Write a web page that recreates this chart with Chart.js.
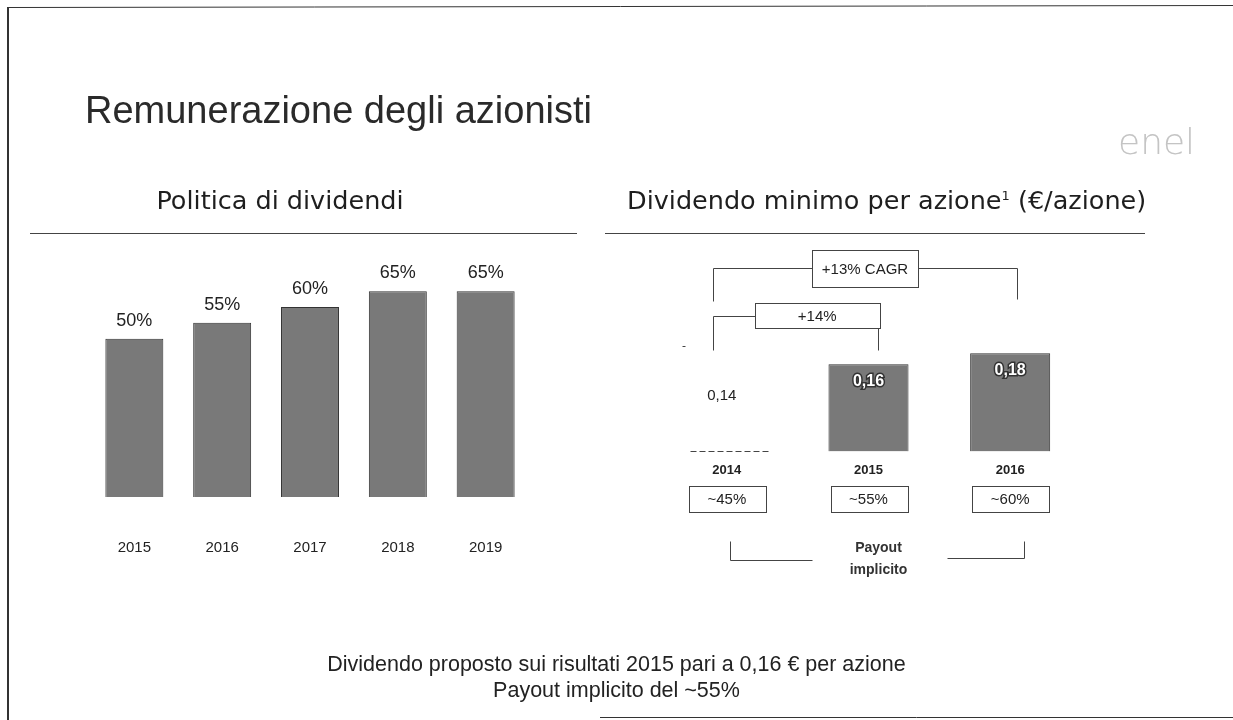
<!DOCTYPE html>
<html>
<head>
<meta charset="utf-8">
<script src="https://cdn.jsdelivr.net/npm/chart.js@4.4.0/dist/chart.umd.min.js"></script>
<style>
html, body { overflow:hidden; }
body { margin:0; background:#fff; width:1233px; height:720px; position:relative;
       font-family:"Liberation Sans", Arial, sans-serif; color:#222; }
.abs { position:absolute; }
.line { position:absolute; border-top:1px solid #444; height:0; }
.sub { position:absolute; font-family:"DejaVu Sans", sans-serif; font-size:25.5px; line-height:28px; white-space:nowrap; color:#1e1e1e; }
canvas { position:absolute; }
</style>
</head>
<body>

<canvas id="frame" width="1233" height="720" style="left:0;top:0;"></canvas>

<div class="abs" style="left:85px;top:89px;font-size:38px;line-height:42px;color:#2a2a2a;white-space:nowrap;">Remunerazione degli azionisti</div>
<div class="abs" style="left:1118px;top:122px;font-size:36px;line-height:40px;color:#c4c4c4;font-family:'DejaVu Sans';font-weight:200;">enel</div>

<div class="sub" style="left:30px;top:186px;width:500px;text-align:center;">Politica di dividendi</div>
<div class="sub" style="left:627px;top:186px;">Dividendo minimo per azione<sup style="font-size:13px;line-height:0;vertical-align:9px;">1</sup> (€/azione)</div>
<div class="line" style="left:30px;top:233px;width:547px;"></div>
<div class="line" style="left:605px;top:233px;width:540px;"></div>

<canvas id="leftChart" width="466" height="349" style="left:77px;top:250px;"></canvas>
<canvas id="rightChart" width="520" height="360" style="left:600px;top:240px;"></canvas>

<div class="abs" style="left:0;top:651px;width:1233px;text-align:center;font-size:21.5px;line-height:26px;">Dividendo proposto sui risultati 2015 pari a 0,16 € per azione</div>
<div class="abs" style="left:0;top:677px;width:1233px;text-align:center;font-size:21.5px;line-height:26px;">Payout implicito del ~55%</div>

<script>
// Politica di dividendi (payout %)
const policyYears = ['2015', '2016', '2017', '2018', '2019'];
const policyPayout = [50, 55, 60, 65, 65];

// Dividendo minimo per azione (€/azione)
const dpsYears = ['2014', '2015', '2016'];
const dpsValues = [0.14, 0.16, 0.18];
const dpsLabels = ['0,14', '0,16', '0,18'];
const impliedPayout = ['~45%', '~55%', '~60%'];
const growthLabels = ['+13% CAGR', '+14%'];

const FONT = '"Liberation Sans", Arial, sans-serif';
const BAR_GREY = '#797979';

// page frame of the scanned slide
const fctx = document.getElementById('frame').getContext('2d');
fctx.strokeStyle = '#333';
fctx.lineWidth = 1;
fctx.beginPath(); fctx.moveTo(8, 7.5); fctx.lineTo(1233, 5.5); fctx.stroke();
fctx.lineWidth = 2;
fctx.beginPath(); fctx.moveTo(8, 7); fctx.lineTo(8, 720); fctx.stroke();
fctx.lineWidth = 1;
fctx.beginPath(); fctx.moveTo(600, 717.5); fctx.lineTo(1233, 717.5); fctx.stroke();

// labels above the bars on the left
const policyLabels = {
    id: 'policyLabels',
    afterDatasetsDraw(chart) {
        const ctx = chart.ctx;
        ctx.save();
        ctx.font = '18px ' + FONT;
        ctx.fillStyle = '#222';
        ctx.textAlign = 'center';
        ctx.textBaseline = 'middle';
        chart.getDatasetMeta(0).data.forEach((bar, i) => {
            ctx.fillText(policyPayout[i] + '%', bar.x, bar.y - 18);
        });
        ctx.restore();
    }
};

new Chart(document.getElementById('leftChart').getContext('2d'), {
    type: 'bar',
    data: {
        labels: policyYears,
        datasets: [{
            data: policyPayout,
            backgroundColor: BAR_GREY,
            borderColor: '#333',
            borderWidth: 1,
            barPercentage: 0.66,
            categoryPercentage: 1
        }]
    },
    options: {
        responsive: false,
        animation: false,
        layout: { padding: 0, autoPadding: false },
        plugins: { legend: { display: false }, tooltip: { enabled: false } },
        scales: {
            x: {
                grid: { display: false, drawTicks: false },
                border: { display: false },
                ticks: { color: '#222', padding: 42, font: { family: FONT, size: 15 } }
            },
            y: { display: false, min: 0, max: 78 }
        }
    },
    plugins: [policyLabels]
});

function box(ctx, x1, y1, x2, y2) {
    ctx.strokeRect(Math.round(x1) + 0.5, Math.round(y1) + 0.5, Math.round(x2 - x1), Math.round(y2 - y1));
}
function seg(ctx, pts) {
    ctx.beginPath();
    ctx.moveTo(Math.round(pts[0][0]) + 0.5, Math.round(pts[0][1]) + 0.5);
    for (let i = 1; i < pts.length; i++) ctx.lineTo(Math.round(pts[i][0]) + 0.5, Math.round(pts[i][1]) + 0.5);
    ctx.stroke();
}

// brackets, boxes and value labels on the right
const dpsDecor = {
    id: 'dpsDecor',
    afterDatasetsDraw(chart) {
        const ctx = chart.ctx;
        const xs = dpsYears.map((_, i) => chart.scales.x.getPixelForValue(i));
        const b = chart.chartArea.bottom;
        const bars = chart.getDatasetMeta(0).data;
        ctx.save();
        ctx.textAlign = 'center';
        ctx.textBaseline = 'middle';

        // value labels
        bars.forEach((bar, i) => {
            if (i === 0) {
                ctx.font = '15px ' + FONT;
                ctx.fillStyle = '#222';
                ctx.fillText(dpsLabels[i], bar.x - 5, bar.y + 21);
            } else {
                ctx.font = 'bold 16px ' + FONT;
                ctx.lineWidth = 3;
                ctx.strokeStyle = '#333';
                ctx.strokeText(dpsLabels[i], bar.x, bar.y + 17);
                ctx.fillStyle = '#fff';
                ctx.fillText(dpsLabels[i], bar.x, bar.y + 17);
            }
        });
        ctx.lineWidth = 1;
        ctx.strokeStyle = '#444';

        // dashed base under 2014
        ctx.setLineDash([6, 3]);
        seg(ctx, [[xs[0] - 37, b], [xs[0] + 41, b]]);
        ctx.setLineDash([]);

        // +13% CAGR bracket
        const cl = xs[0] - 14, cr = xs[2] + 7, cm = (cl + cr) / 2;
        seg(ctx, [[cl, b - 150], [cl, b - 183], [cm - 53, b - 183]]);
        seg(ctx, [[cm + 53, b - 183], [cr, b - 183], [cr, b - 152]]);
        box(ctx, cm - 53, b - 201, cm + 53, b - 164);
        ctx.fillStyle = '#222';
        ctx.font = '15px ' + FONT;
        ctx.fillText(growthLabels[0], cm, b - 182);

        // +14% bracket
        const sr = xs[1] + 9;
        box(ctx, xs[0] + 28, b - 148, sr + 2, b - 123);
        seg(ctx, [[cl, b - 101], [cl, b - 135], [xs[0] + 28, b - 135]]);
        seg(ctx, [[sr, b - 123], [sr, b - 101]]);
        ctx.fillText(growthLabels[1], (xs[0] + 28 + sr + 2) / 2, b - 135);
        // stray mark left of 2014
        seg(ctx, [[xs[0] - 45, b - 105], [xs[0] - 42, b - 105]]);

        // implied payout boxes
        ctx.font = '15px ' + FONT;
        xs.forEach((x, i) => {
            box(ctx, x - 38, b + 35, x + 39, b + 61);
            ctx.fillText(impliedPayout[i], x, b + 48);
        });

        // lower bracket
        seg(ctx, [[xs[0] + 3, b + 90], [xs[0] + 3, b + 109], [xs[1] - 57, b + 109]]);
        seg(ctx, [[xs[1] + 78, b + 107], [xs[2] + 14, b + 107], [xs[2] + 14, b + 90]]);
        ctx.font = 'bold 14px ' + FONT;
        ctx.fillStyle = '#333';
        ctx.fillText('Payout', xs[1] + 10, b + 97);
        ctx.fillText('implicito', xs[1] + 10, b + 119);
        ctx.restore();
    }
};

new Chart(document.getElementById('rightChart').getContext('2d'), {
    type: 'bar',
    data: {
        labels: dpsYears,
        datasets: [{
            data: dpsValues,
            backgroundColor: ['#ffffff', BAR_GREY, BAR_GREY],
            borderColor: '#333',
            borderWidth: [0, 1, 1],
            barPercentage: 0.565,
            categoryPercentage: 1
        }]
    },
    options: {
        responsive: false,
        animation: false,
        layout: { padding: { left: 56, right: 39, top: 48, bottom: 111 }, autoPadding: false },
        plugins: { legend: { display: false }, tooltip: { enabled: false } },
        scales: {
            x: {
                grid: { display: false, drawTicks: false },
                border: { display: false },
                ticks: { color: '#222', padding: 11, font: { family: FONT, size: 13, weight: 'bold' } }
            },
            y: { display: false, min: 0, max: 0.3 }
        }
    },
    plugins: [dpsDecor]
});
</script>
</body>
</html>
